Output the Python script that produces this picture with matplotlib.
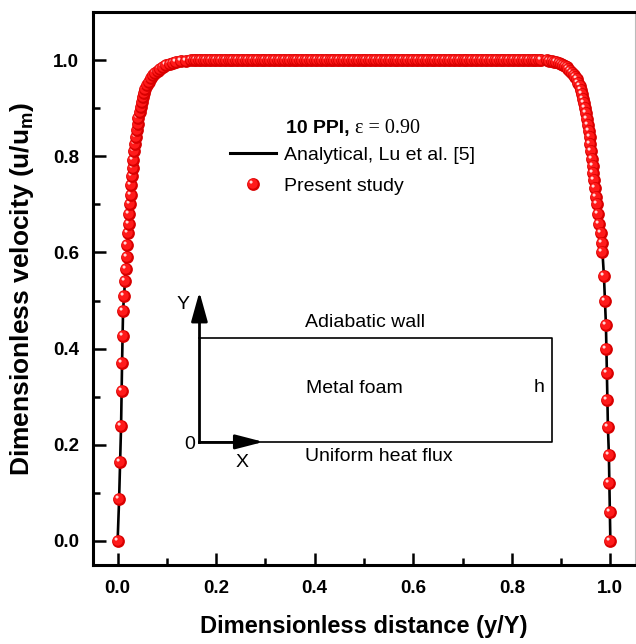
import numpy as np
import matplotlib
matplotlib.use("Agg")
import matplotlib.pyplot as plt
from matplotlib.path import Path
from matplotlib.lines import Line2D
from matplotlib.legend_handler import HandlerTuple

# ---------------- data ----------------
left_y = [0.000, 0.003, 0.005, 0.007, 0.008, 0.009, 0.010, 0.011, 0.013, 0.0148,
          0.0163, 0.018, 0.0196, 0.0212, 0.0225, 0.0238, 0.0255, 0.0265, 0.0277, 0.029,
          0.0302, 0.0316, 0.033, 0.0349, 0.0368, 0.0388, 0.0407, 0.0423, 0.0444, 0.0466,
          0.0486, 0.051, 0.0536, 0.056, 0.060, 0.0635, 0.067, 0.071, 0.075, 0.081,
          0.086, 0.093, 0.099, 0.106, 0.112, 0.118, 0.128, 0.138, 0.148]
left_u = [0.000, 0.087, 0.165, 0.240, 0.311, 0.370, 0.427, 0.478, 0.510, 0.540,
          0.565, 0.590, 0.615, 0.640, 0.660, 0.680, 0.700, 0.720, 0.740, 0.758,
          0.776, 0.793, 0.810, 0.825, 0.840, 0.855, 0.868, 0.880, 0.892, 0.903,
          0.913, 0.923, 0.932, 0.940, 0.948, 0.955, 0.962, 0.968, 0.973, 0.978,
          0.982, 0.986, 0.989, 0.992, 0.994, 0.996, 0.998, 0.999, 1.000]

core_y = np.round(np.arange(0.155, 0.861, 0.005), 3)
core_u = np.full(len(core_y), 1.0)   # flat core velocity read as 1.0

right_y = [0.8705, 0.876, 0.881, 0.886, 0.8905, 0.895, 0.899, 0.903, 0.907, 0.911,
           0.915, 0.919, 0.9225, 0.926, 0.929, 0.932, 0.935, 0.938, 0.9405, 0.943,
           0.945, 0.947, 0.949, 0.951, 0.953, 0.955, 0.9565, 0.958, 0.9595, 0.961,
           0.9625, 0.964, 0.9655, 0.967, 0.969, 0.971, 0.973, 0.975, 0.9775, 0.980,
           0.9825, 0.984, 0.987, 0.989, 0.991, 0.992, 0.993, 0.994, 0.995, 0.997,
           0.998, 0.999, 1.000]
right_u = [0.9995, 0.999, 0.998, 0.997, 0.996, 0.994, 0.992, 0.990, 0.988, 0.985,
           0.982, 0.978, 0.974, 0.970, 0.965, 0.960, 0.953, 0.946, 0.938, 0.930,
           0.920, 0.910, 0.900, 0.890, 0.878, 0.865, 0.853, 0.840, 0.825, 0.810,
           0.795, 0.780, 0.765, 0.750, 0.733, 0.715, 0.700, 0.680, 0.660, 0.640,
           0.620, 0.600, 0.550, 0.500, 0.450, 0.400, 0.350, 0.294, 0.238, 0.179,
           0.120, 0.061, 0.000]

y_all = np.concatenate([left_y, core_y, right_y])
u_all = np.concatenate([left_u, core_u, right_u])

x_ticks = [0.0, 0.2, 0.4, 0.6, 0.8, 1.0]
y_ticks = [0.0, 0.2, 0.4, 0.6, 0.8, 1.0]

# ---------------- figure ----------------
plt.rcParams['font.family'] = ['Liberation Sans', 'DejaVu Sans']
fig = plt.figure(figsize=(6.36, 6.44), dpi=100)
ax = fig.add_axes([93/636, 79/644, 542/636, 553/644])
ax.set_xlim(-0.05, 1.05)
ax.set_ylim(-0.05, 1.10)

# analytical line
ax.plot(y_all, u_all, color='black', lw=1.9, zorder=2)

# sphere-like markers
def offset_circle(cx, cy, r):
    c = Path.circle((cx, cy), r)
    verts = np.vstack([[[-1, -1], [1, 1]], c.vertices])
    codes = np.concatenate([[Path.MOVETO, Path.MOVETO], c.codes])
    return Path(verts, codes)

mid_path = offset_circle(-0.12, 0.12, 0.78)
hi_path = offset_circle(-0.38, 0.38, 0.24)
MS = 9.2
for xv, uv in zip(y_all, u_all):
    ax.plot([xv], [uv], 'o', ms=MS, color='#d80000', mec='none', zorder=3)
    ax.plot([xv], [uv], marker=mid_path, ms=MS, color='#ff1a1a', mec='none', ls='none', zorder=3)
    ax.plot([xv], [uv], marker=hi_path, ms=MS, color='#ffd8d8', mec='none', ls='none', zorder=3)

# axes styling
for s in ax.spines.values():
    s.set_linewidth(2.2)
ax.spines['right'].set_linewidth(0.8)
ax.spines['right'].set_color('#bbbbbb')
ax.set_xticks(x_ticks)
ax.set_yticks(y_ticks)
ax.set_xticks(np.arange(-0.0, 1.01, 0.1), minor=True)
ax.set_yticks(np.arange(0.0, 1.01, 0.1), minor=True)
ax.set_xticklabels([f"{v:.1f}" for v in x_ticks])
ax.set_yticklabels([f"{v:.1f}" for v in y_ticks])
ax.tick_params(which='major', direction='in', length=9, width=1.8, top=False, right=False,
               labelsize=13.5)
ax.tick_params(which='minor', direction='in', length=5, width=1.8, top=False, right=False)
ax.tick_params(axis='x', which='major', pad=11)
ax.tick_params(axis='y', which='major', pad=10)
for lab in ax.get_xticklabels() + ax.get_yticklabels():
    lab.set_fontweight('bold')

ax.set_xlabel('Dimensionless distance (y/Y)', fontsize=17, fontweight='bold', labelpad=13)
ax.set_ylabel(r'Dimensionless velocity (u/u$_\mathregular{m}$)', fontsize=19,
              fontweight='bold', labelpad=12)

# legend
line_h = Line2D([], [], color='black', lw=2.2)
s1 = Line2D([], [], marker='o', ms=MS, color='#d80000', mec='none', ls='none')
s2 = Line2D([], [], marker=mid_path, ms=MS, color='#ff1a1a', mec='none', ls='none')
s3 = Line2D([], [], marker=hi_path, ms=MS, color='#ffd8d8', mec='none', ls='none')
leg = ax.legend([line_h, (s1, s2, s3)], ['Analytical, Lu et al. [5]', 'Present study'],
                handler_map={tuple: HandlerTuple(ndivide=1, pad=0)},
                loc='upper left', bbox_to_anchor=(0.253, 0.757), frameon=False,
                fontsize=14, handlelength=2.35, handletextpad=0.4, labelspacing=0.68,
                borderpad=0, borderaxespad=0)

t1 = ax.text(0.357, 0.790, '10 PPI, ', transform=ax.transAxes, fontsize=14,
             fontweight='bold', ha='left', va='center')
ax.annotate(r'ε = 0.90', xy=(1, 0.5), xycoords=t1, fontsize=14.5,
            family='Liberation Serif', ha='left', va='center')

# inset sketch of the channel
x0, x1, yb, yt = 0.166, 0.881, 0.206, 0.423
ax.plot([x0, x1, x1, x0], [yt, yt, yb, yb], color='black', lw=1.2, zorder=1)
ax.plot([x0, x0], [yb, 0.49], color='black', lw=2.0, zorder=1)
ax.annotate('', xy=(x0, 0.518), xytext=(x0, 0.47),
            arrowprops=dict(arrowstyle='-|>,head_length=0.9,head_width=0.25',
                            mutation_scale=20, color='black', lw=2.0, shrinkA=0, shrinkB=0))
ax.plot([x0, 0.27], [yb, yb], color='black', lw=2.0, zorder=1)
ax.annotate('', xy=(0.296, yb), xytext=(0.24, yb),
            arrowprops=dict(arrowstyle='-|>,head_length=0.85,head_width=0.22',
                            mutation_scale=20, color='black', lw=2.0, shrinkA=0, shrinkB=0))
fs_d = 14
ax.text(0.133, 0.492, 'Y', fontsize=fs_d, ha='center', va='center')
ax.text(0.147, 0.200, '0', fontsize=fs_d, ha='center', va='center')
ax.text(0.253, 0.163, 'X', fontsize=fs_d, ha='center', va='center')
ax.text(0.503, 0.454, 'Adiabatic wall', fontsize=fs_d, ha='center', va='center')
ax.text(0.481, 0.317, 'Metal foam', fontsize=fs_d, ha='center', va='center')
ax.text(0.855, 0.319, 'h', fontsize=fs_d, ha='center', va='center')
ax.text(0.531, 0.175, 'Uniform heat flux', fontsize=fs_d, ha='center', va='center')

fig.savefig('out.png', dpi=100)
